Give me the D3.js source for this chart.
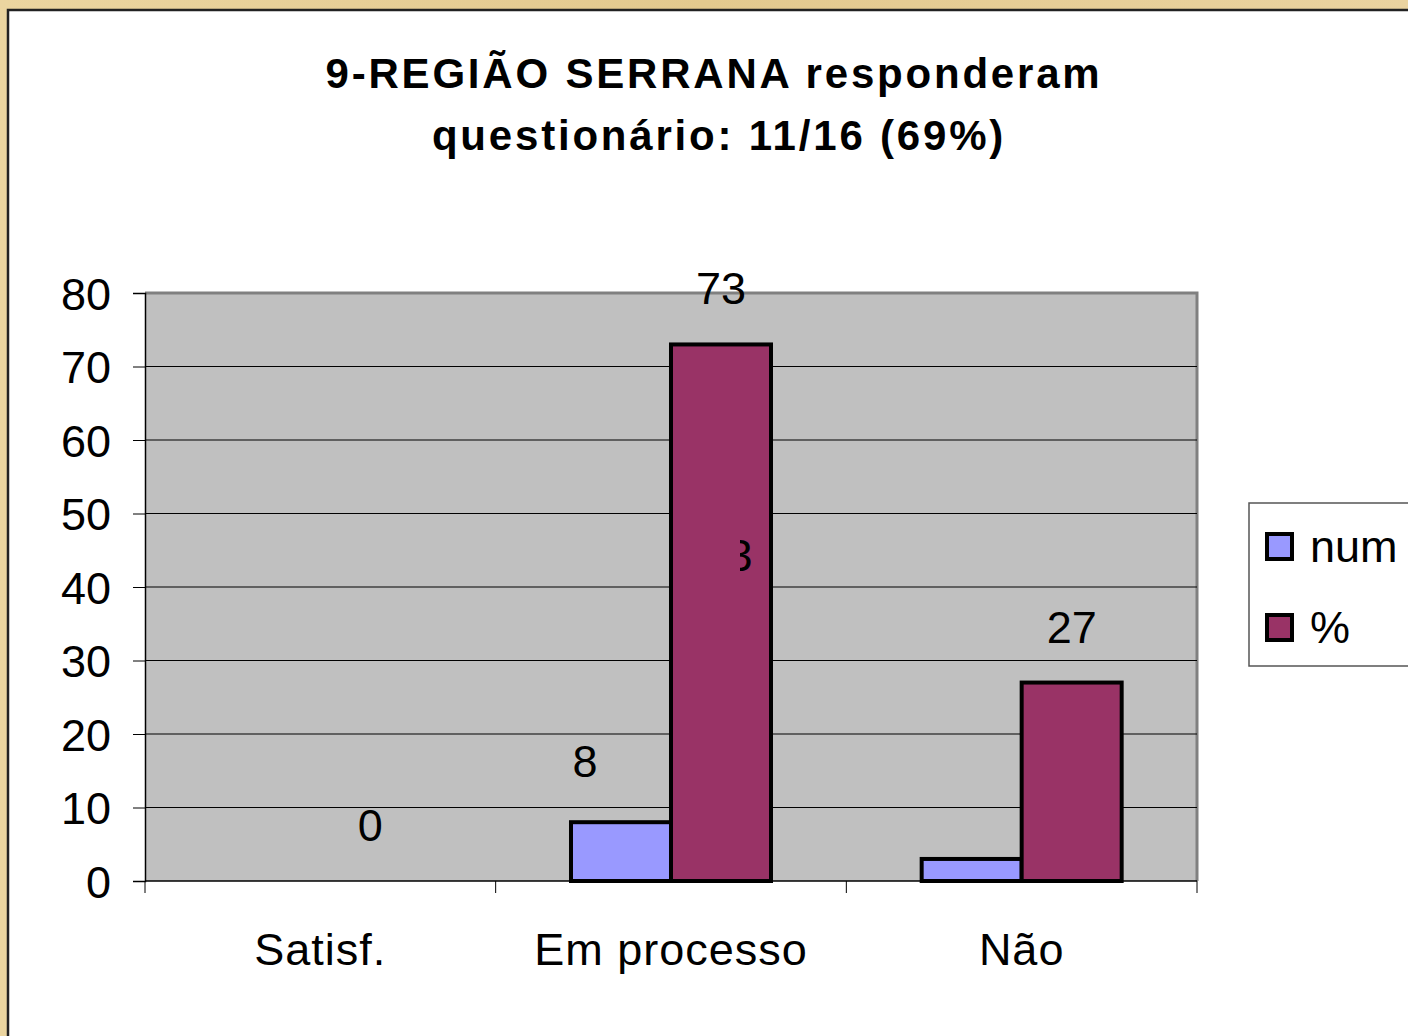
<!DOCTYPE html>
<html>
<head>
<meta charset="utf-8">
<script src="https://cdn.jsdelivr.net/npm/d3@7"></script>
<style>
  body { margin: 0; background: #fff; }
  svg { display: block; font-family: "Liberation Sans", Arial, sans-serif; }
</style>
</head>
<body>
<svg width="1408" height="1036"></svg>
<script>
// Data
const categories = ["Satisf.", "Em processo", "Não"];
const seriesNames = ["num", "%"];
const numValues = [0, 8, 3];
const pctValues = [0, 73, 27];
const yTicks = [0, 10, 20, 30, 40, 50, 60, 70, 80];
const colors = ["#9999FF", "#993366"];

const svg = d3.select("svg");
const FS = 45;

// parchment frame
const defs = svg.append("defs");
const grad = defs.append("linearGradient").attr("id", "parch")
  .attr("x1", 0).attr("x2", 1).attr("y1", 0).attr("y2", 0);
grad.append("stop").attr("offset", "0%").attr("stop-color", "#EBD5A0");
grad.append("stop").attr("offset", "50%").attr("stop-color", "#E3C98E");
grad.append("stop").attr("offset", "100%").attr("stop-color", "#EAD3A0");
svg.append("rect").attr("width", 1408).attr("height", 1036).attr("fill", "url(#parch)");
svg.append("rect").attr("x", 8).attr("y", 10).attr("width", 1400).attr("height", 1026).attr("fill", "#fff");
svg.append("path").attr("d", "M8,1036 V10 H1408")
  .attr("fill", "none").attr("stroke", "#222").attr("stroke-width", 2.5);

// title
const title = svg.append("text").attr("text-anchor", "middle")
  .attr("font-weight", "bold").attr("font-size", 42).attr("fill", "#000")
  .attr("letter-spacing", 2.8);
title.append("tspan").attr("x", 714).attr("y", 88).text("9-REGIÃO SERRANA responderam");
title.append("tspan").attr("x", 719).attr("y", 150).text("questionário: 11/16 (69%)");

// scales
const x0 = 145, x1 = 1197, yBot = 881, yTop = 293;
const x = d3.scaleBand().domain(categories).range([x0, x1]).padding(0);
const y = d3.scaleLinear().domain([0, 80]).range([yBot, yTop]);
const xs = d3.scaleBand().domain(seriesNames)
  .range([x.bandwidth() / 2 - 100, x.bandwidth() / 2 + 100]).padding(0);

// plot area
svg.append("rect").attr("x", x0).attr("y", yTop).attr("width", x1 - x0).attr("height", yBot - yTop)
  .attr("fill", "#C0C0C0");
svg.append("path").attr("d", `M${x0},${yTop} H${x1} V${yBot}`)
  .attr("fill", "none").attr("stroke", "#808080").attr("stroke-width", 3);

// gridlines
svg.append("g").selectAll("line").data(yTicks.filter(d => d > 0 && d < 80)).join("line")
  .attr("x1", x0).attr("x2", x1).attr("y1", d => y(d)).attr("y2", d => y(d))
  .attr("stroke", "#000").attr("stroke-width", 1);

// bars
const rows = categories.map((c, i) => ({ cat: c, vals: [numValues[i], pctValues[i]] }));
const groups = svg.append("g").selectAll("g").data(rows).join("g")
  .attr("transform", d => `translate(${x(d.cat)},0)`);
groups.selectAll("rect").data(d => d.vals.map((v, j) => ({ s: seriesNames[j], v, j })))
  .join("rect")
  .filter(d => d.v > 0)
  .attr("x", d => xs(d.s)).attr("width", xs.bandwidth())
  .attr("y", d => y(d.v)).attr("height", d => y(0) - y(d.v))
  .attr("fill", d => colors[d.j]).attr("stroke", "#000").attr("stroke-width", 4);

// axes
const yAxis = svg.append("g").attr("transform", `translate(${x0},0)`)
  .call(d3.axisLeft(y).tickValues(yTicks).tickSize(12).tickPadding(22));
yAxis.select(".domain").attr("stroke", "#000").attr("stroke-width", 1.5);
yAxis.selectAll("text").attr("font-size", FS).attr("font-family", "Liberation Sans, Arial").attr("fill", "#000")
  .attr("dy", "0.36em");
yAxis.selectAll(".tick line").attr("stroke", "#000");

const xAxis = svg.append("g").attr("transform", `translate(0,${yBot})`);
xAxis.append("line").attr("x1", x0).attr("x2", x1).attr("stroke", "#000").attr("stroke-width", 1.5);
xAxis.selectAll(".tk").data(categories.concat(["end"])).join("line")
  .attr("x1", (d, i) => i < categories.length ? x(d) : x1)
  .attr("x2", (d, i) => i < categories.length ? x(d) : x1)
  .attr("y1", 0).attr("y2", 12).attr("stroke", "#000");
xAxis.selectAll(".lbl").data(categories).join("text")
  .attr("x", d => x(d) + x.bandwidth() / 2).attr("y", 84)
  .attr("text-anchor", "middle").attr("font-size", FS).attr("fill", "#000")
  .attr("letter-spacing", 1)
  .text(d => d);

// value labels (placement follows the original, some are shifted)
const nudges = { "Satisf.|num": null, "Em processo|num": -36, "Não|num": "clip" };
rows.forEach(r => {
  r.vals.forEach((v, j) => {
    const s = seriesNames[j];
    const key = r.cat + "|" + s;
    if (key in nudges && nudges[key] === null) return;
    const cx = x(r.cat) + xs(s) + xs.bandwidth() / 2;
    if (nudges[key] === "clip") {
      // label hidden behind the % bar, only a sliver shows
      const clipX = x("Em processo") + xs("%") + xs.bandwidth() - 31;
      defs.append("clipPath").attr("id", "lblclip").append("rect")
        .attr("x", clipX).attr("y", 0).attr("width", 200).attr("height", 1036);
      svg.append("text").attr("clip-path", "url(#lblclip)")
        .attr("x", clipX).attr("y", y(40) - 16)
        .attr("text-anchor", "middle").attr("font-size", FS).attr("fill", "#000")
        .text(d3.format(".0f")(v));
      return;
    }
    svg.append("text")
      .attr("x", cx + (nudges[key] || 0)).attr("y", y(v) - (j === 0 ? 45 : 40))
      .attr("text-anchor", "middle").attr("font-size", FS).attr("fill", "#000")
      .text(d3.format(".0f")(v));
  });
});

// legend
const lg = svg.append("g").attr("transform", "translate(1249,503)");
lg.append("rect").attr("width", 170).attr("height", 163).attr("fill", "#fff")
  .attr("stroke", "#555").attr("stroke-width", 1.5);
seriesNames.forEach((s, i) => {
  lg.append("rect").attr("x", 18).attr("y", 31 + i * 81).attr("width", 25).attr("height", 25)
    .attr("fill", colors[i]).attr("stroke", "#000").attr("stroke-width", 4);
  lg.append("text").attr("x", 61).attr("y", 59 + i * 81).attr("font-size", FS).attr("fill", "#000").text(s);
});
</script>
</body>
</html>
